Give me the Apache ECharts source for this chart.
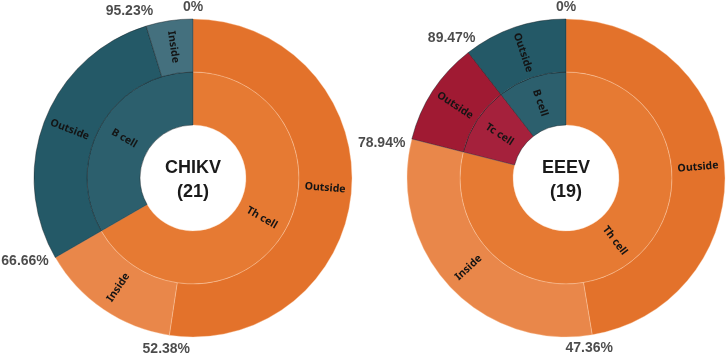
<!DOCTYPE html>
<html>
<head>
<meta charset="utf-8">
<script src="https://cdn.jsdelivr.net/npm/echarts@6/dist/echarts.min.js"></script>
<style>
  html, body { margin: 0; padding: 0; background: #fff; }
  #chart { width: 727px; height: 361px; }
</style>
</head>
<body>
<div id="chart"></div>
<script>
// CHIKV
const chikvName = "CHIKV";
const chikvCells = ["Th cell", "B cell"];
const chikvOutside = [11, 6];
const chikvInside = [3, 1];
const chikvTicks = ["0%", "52.38%", "66.66%", "95.23%"];

// EEEV
const eeevName = "EEEV";
const eeevCells = ["Th cell", "Tc cell", "B cell"];
const eeevOutside = [9, 2, 2];
const eeevInside = [6, 0, 0];
const eeevTicks = ["0%", "47.36%", "78.94%", "89.47%"];

// colours: [inner, outside, inside]
const cellColors = {
  "Th cell": ["#e67a33", "#e3722b", "#e9874a"],
  "B cell": ["#2c5f6d", "#245967", "#44707e"],
  "Tc cell": ["#a5213c", "#a01a33", "#b23049"],
};
const lightLine = "rgba(255,214,180,0.45)";
const darkLine = "rgba(20,30,35,0.55)";

function buildTree(cells, outside, inside) {
  return cells.map((c, i) => {
    const col = cellColors[c];
    const line = c === "Th cell" ? lightLine : darkLine;
    const children = [];
    if (outside[i] > 0)
      children.push({ name: "Outside", value: outside[i], itemStyle: { color: col[1], borderColor: line } });
    if (inside[i] > 0)
      children.push({ name: "Inside", value: inside[i], itemStyle: { color: col[2], borderColor: line } });
    return { name: c, itemStyle: { color: col[0], borderColor: line }, children };
  });
}

// start of every leaf slice, in data units
function leafStarts(outside, inside) {
  const starts = [];
  let acc = 0;
  outside.forEach((o, i) => {
    [o, inside[i]].forEach((v) => {
      if (v > 0) { starts.push(acc); acc += v; }
    });
  });
  return starts;
}

function tickData(outside, inside, ticks) {
  const starts = leafStarts(outside, inside);
  const total = outside.reduce((a, b) => a + b, 0) + inside.reduce((a, b) => a + b, 0);
  return starts.map((s, i) => {
    const ang = (s / total) * 2 * Math.PI;
    const sn = Math.sin(ang), cs = Math.cos(ang);
    let label;
    if (Math.abs(sn) < 0.05 && cs > 0) label = { position: "top", align: "center" };
    else if (cs < -0.9) label = { position: "bottom", align: "center", offset: [-3, 2] };
    else if (cs > 0.5 && sn < 0) label = { position: "top", align: "right", offset: [7, -3] };
    else label = { position: sn < 0 ? "left" : "right", offset: [-2, 4] };
    return { value: [1, s], tick: ticks[i], label };
  });
}

const chikvTotal = chikvOutside.concat(chikvInside).reduce((a, b) => a + b, 0);
const eeevTotal = eeevOutside.concat(eeevInside).reduce((a, b) => a + b, 0);

const centers = [[193, 178], [566, 178]];
const outerR = 159;

const sunLabel = {
  rotate: "radial",
  fontFamily: "Noto Sans",
  fontWeight: "bold",
  fontSize: 10.5,
  color: "#141414",
};

function sunSeries(data, center) {
  return {
    type: "sunburst",
    center,
    radius: [53, outerR],
    sort: null,
    startAngle: 90,
    nodeClick: false,
    emphasis: { focus: "none" },
    itemStyle: { borderWidth: 0.8 },
    label: sunLabel,
    data,
  };
}

function tickSeries(data, idx) {
  return {
    type: "scatter",
    coordinateSystem: "polar",
    polarIndex: idx,
    symbolSize: 1,
    itemStyle: { color: "rgba(0,0,0,0)" },
    silent: true,
    label: {
      show: true,
      distance: 4,
      formatter: (p) => p.data.tick,
      fontFamily: "Liberation Sans",
      fontWeight: "bold",
      fontSize: 14,
      color: "#1e1e1e",
    },
    data,
  };
}

function centerText(name, total, c) {
  return {
    type: "text",
    x: c[0],
    y: c[1] + 2,
    style: {
      text: name + "\n(" + total + ")",
      align: "center",
      verticalAlign: "middle",
      font: "bold 18px 'Liberation Sans'",
      lineHeight: 24,
      fill: "#1a1a1a",
    },
  };
}

const chart = echarts.init(document.getElementById("chart"));
chart.setOption({
  animation: false,
  polar: [
    { center: centers[0], radius: [0, outerR] },
    { center: centers[1], radius: [0, outerR] },
  ],
  angleAxis: [
    { polarIndex: 0, type: "value", min: 0, max: chikvTotal, startAngle: 90, clockwise: true, show: false },
    { polarIndex: 1, type: "value", min: 0, max: eeevTotal, startAngle: 90, clockwise: true, show: false },
  ],
  radiusAxis: [
    { polarIndex: 0, type: "value", min: 0, max: 1, show: false },
    { polarIndex: 1, type: "value", min: 0, max: 1, show: false },
  ],
  graphic: [
    centerText(chikvName, chikvTotal, centers[0]),
    centerText(eeevName, eeevTotal, centers[1]),
  ],
  series: [
    sunSeries(buildTree(chikvCells, chikvOutside, chikvInside), centers[0]),
    sunSeries(buildTree(eeevCells, eeevOutside, eeevInside), centers[1]),
    tickSeries(tickData(chikvOutside, chikvInside, chikvTicks), 0),
    tickSeries(tickData(eeevOutside, eeevInside, eeevTicks), 1),
  ],
});
</script>
</body>
</html>
